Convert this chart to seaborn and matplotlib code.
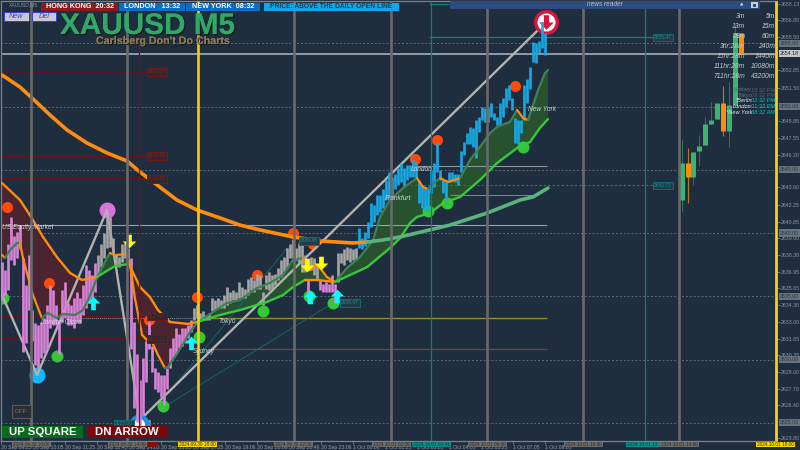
import numpy as np
import matplotlib
matplotlib.use("Agg")
import matplotlib.pyplot as plt
import matplotlib.patheffects as pe
from matplotlib.patches import Rectangle
from matplotlib.path import Path
from matplotlib.transforms import Affine2D
import seaborn as sns

# ---------- data (x = bar number, y = price) ----------
bar_high = [2637.7,2637.1,2639.1,2641.3,2639.8,2640.1,2640.6,2638.0,2635.9,2638.3,2633.9,2632.9,2632.7,2633.0,2633.3,2634.3,
 2635.9,2635.5,2634.3,2633.0,2635.5,2636.1,2634.5,2634.3,2634.9,2635.3,2634.9,2635.9,2637.5,2637.1,2636.7,2637.6,
 2638.3,2639.1,2640.0,2641.2,2641.3,2639.6,2638.3,2638.1,2639.1,2639.2,2638.8,
 2638.0,2633.0,2630.4,2628.4,2630.1,2631.5,2633.0,2631.1,2629.3,2629.0,2628.8,2628.8,2629.3,2630.9,2631.7,2632.5,2632.0,2632.5,2632.5,2632.7,2633.1,
 2634.1,2634.3,2633.7,2633.8,2633.5,2633.7,2634.9,2634.7,2634.9,2634.7,2635.1,2635.7,2635.3,2635.5,2635.3,2636.1,2635.7,2635.6,2636.4,2636.5,2636.3,2636.8,2636.7,2635.3,2636.7,2636.9,2636.7,2636.8,2637.2,2637.9,2638.1,2638.8,2639.1,2639.5,2638.8,2639.2,2639.2,2638.3,
 2636.3,2638.1,2638.0,2637.5,2636.3,2636.0,2636.1,2636.0,2636.7,2636.0,
 2638.4,2638.4,2638.7,2638.9,2638.8,2638.7,2638.8,
 2640.4,2639.6,2640.1,2640.9,2642.4,2642.2,2643.0,2643.0,2643.5,2644.2,2644.8,2644.4,2644.7,2645.1,2645.5,2645.1,2645.4,2645.4,2645.8,2645.5,2644.2,2643.8,2643.6,2643.5,2645.0,2645.5,2647.1,2645.0,2644.2,2644.0,2644.8,2644.8,2644.7,2644.7,2646.5,2647.2,2647.9,2648.4,2648.3,2648.9,2649.2,2650.0,2649.9,2650.0,2650.3,2649.5,2649.2,2650.3,2650.7,2651.5,2651.7,2650.7,2649.1,2648.9,2648.9,2651.7,2652.2,2653.1,2655.1,2655.0,2655.2,2656.7,2655.8]
bar_low = [2634.7,2635.1,2635.5,2637.9,2637.5,2638.0,2638.7,2630.6,2631.3,2633.9,2631.5,2629.6,2629.3,2630.1,2630.5,2630.8,
 2632.5,2632.7,2632.7,2630.4,2633.0,2633.3,2632.7,2632.7,2632.5,2633.0,2632.9,2633.5,2634.1,2634.5,2634.9,2635.3,
 2636.8,2637.3,2638.0,2638.8,2638.9,2638.4,2637.3,2637.3,2637.7,2638.0,2638.0,
 2630.8,2626.2,2625.1,2624.6,2625.6,2628.2,2630.8,2629.0,2627.7,2627.4,2627.0,2626.4,2627.7,2629.3,2630.1,2630.4,2630.9,2631.1,2631.4,2631.7,2632.2,
 2633.1,2633.3,2633.1,2633.1,2633.1,2633.1,2633.8,2633.9,2634.1,2634.1,2634.1,2634.3,2634.5,2634.7,2634.7,2634.9,2634.9,2634.9,2635.1,2635.5,2635.3,2635.6,2635.6,2634.3,2635.6,2635.5,2635.6,2635.9,2636.3,2636.5,2636.9,2637.2,2638.0,2638.0,2637.9,2637.6,2636.9,2636.9,
 2634.5,2637.1,2636.7,2636.3,2635.5,2635.3,2635.3,2635.3,2635.3,2634.5,
 2636.1,2637.6,2637.5,2637.9,2637.7,2637.9,2637.9,
 2638.8,2638.7,2639.0,2639.6,2640.5,2640.9,2641.4,2641.7,2642.0,2642.6,2642.8,2642.8,2643.5,2643.8,2644.0,2643.6,2644.2,2644.4,2644.4,2644.3,2642.4,2642.0,2641.8,2641.7,2643.2,2643.6,2644.8,2644.2,2643.2,2642.4,2644.0,2644.1,2644.0,2643.8,2644.8,2646.2,2647.0,2647.0,2646.8,2645.9,2648.0,2648.9,2648.8,2648.8,2649.2,2648.9,2648.5,2648.5,2649.2,2650.0,2650.5,2649.7,2647.1,2647.0,2647.9,2648.9,2650.3,2651.4,2653.5,2653.4,2654.2,2654.6,2654.1]
bar_run_colors = ["#d884d8","#a6a6a6","#d884d8","#a6a6a6","#d884d8","#a6a6a6","#d884d8","#a6a6a6","#17a9e6"]
bar_run_lengths = [32,11,21,38,1,3,6,7,63]

fast_x = [0,1,2.7,5,6,7,8.3,10.3,13.3,15.3,18.3,20.3,24.3,27,28.7,31.7,34.3,36,37.7,41.7,42.7,44.3,46.7,48.3,50,52,54.3,55.3,58.7,62.7,65,70.3,75,79.3,85,89.3,93.7,97,100.3,102.7,104.3,106,108.3,111,115,119.3,123.7,126,129.3,133.7,138.3,140.3,142,143.3,146,148.7,152.7,156,159.3,162.7,165,169.3,171.7,173.7,175.3,178.7,181,182]
fast_p = [2638.26,2638.03,2638.66,2639.21,2639.21,2638.03,2636.84,2635.1,2633.28,2633.68,2633.28,2633.6,2633.52,2633.91,2634.7,2636.44,2637.71,2638.42,2638.26,2638.34,2637.47,2634.86,2631.94,2631.54,2631.39,2630.36,2629.33,2629.41,2630.59,2632.18,2632.89,2633.76,2634.47,2634.7,2635.65,2636.05,2636.68,2637.87,2638.03,2637.08,2637.47,2637.24,2636.52,2636.13,2637.24,2638.1,2639.45,2641.27,2642.61,2643.56,2644.35,2643.64,2643.48,2643.8,2644.35,2644.03,2644.35,2645.77,2646.8,2647.9,2648.38,2648.78,2649.72,2649.09,2648.93,2651.3,2652.65,2652.89]
fast_orange = [(0,1),(6,13.3),(36,54.3),(100.3,111),(138.3,142),(146,152.7),(171.7,175.3)]
slow_x = [0,6,9.3,13.7,18.3,22.7,26.7,31.7,34.3,37.7,42.3,46,49.3,52,56,62,65,72.7,79.3,88.3,93.7,97,101,105,111,121.7,129.3,132.7,136,138.3,142.7,147,152.7,159.3,165,171.7,176,179.3,182]
slow_p = [2643.95,2642.61,2641.42,2639.68,2638.1,2636.84,2636.29,2636.52,2636.92,2637.39,2637.55,2635.73,2634.94,2633.91,2632.97,2632.81,2632.97,2633.52,2633.91,2634.55,2635.1,2635.73,2636.29,2636.29,2636.13,2637.31,2638.81,2639.6,2640.79,2641.27,2641.58,2642.37,2642.85,2644.19,2645.53,2646.72,2647.19,2648.3,2649.01]
slow_orange = [(0,31.7),(42.3,65),(101,111)]
cloud_edges = [0,31.7,42.4,65,111,182]
cloud_colors = ["#4a2430","#27512f","#4a2430","#27512f","#27512f"]

long_x = [0,6,10,16,21.7,28.3,35,41.7,46,51.7,58.3,65,72.7,79.3,86,97,106,117,121.7]
long_p = [2652.49,2651.54,2650.67,2649.33,2648.14,2647.12,2646.33,2645.69,2644.82,2643.8,2642.61,2641.82,2641.19,2640.63,2640.24,2639.69,2639.37,2639.21,2639.29]
long2_x = [121.7,127,132.7,149.3,161.7,172.7,177,182]
long2_p = [2639.29,2639.45,2639.69,2640.63,2641.58,2642.61,2642.85,2643.56]
zig_x = [0,11.7,35,46,178.7]
zig_p = [2635.1,2628.78,2641.82,2625.22,2656.05]

red_x = [1.67,15.67,49,65,85,97,103.67,137.67,145,171]
red_p = [2642.06,2636.05,2633.12,2634.94,2636.68,2640.0,2639.13,2645.85,2647.39,2651.66]
green_x = [0.33,18.33,53.67,65.67,87,102.33,110.33,142,148.33,173.67]
green_p = [2634.86,2630.28,2626.33,2631.78,2633.84,2635.02,2634.47,2641.74,2642.37,2646.8]
up_x = [30.33,63,102.67,111.67]
up_p = [2634.47,2631.31,2634.94,2635.02]
down_x = [42.33,101.67,106.33]
down_p = [2639.37,2637.47,2637.63]

cand_x = [226.7,228.5,230.3,232.3,234.3,236.3,238.3,240.3,242.3,244.3,246.3]
cand_top = [2645.53,2645.53,2646.4,2646.88,2648.62,2648.93,2650.28,2650.28,2650.12,2655.81,2655.81]
cand_bot = [2642.61,2644.43,2644.43,2646.48,2646.96,2648.62,2649.01,2648.06,2648.06,2650.12,2654.15]
cand_high = [2647.35,2646.72,2646.4,2647.75,2649.17,2650.36,2650.28,2651.62,2651.94,2656.44,2655.81]
cand_low = [2641.66,2642.37,2643.8,2645.3,2646.96,2648.62,2649.01,2647.67,2646.8,2650.12,2654.15]
cand_up = [1,0,1,1,1,1,1,0,1,1,0]

price_ticks = [2658.13,2656.80,2655.50,2652.85,2651.50,2648.85,2647.55,2646.20,2643.60,2642.25,2640.85,2639.60,2638.30,2636.95,2635.65,2634.30,2633.00,2631.65,2630.35,2629.00,2627.70,2626.40,2623.80]
round_levels = [2655,2650,2645,2640,2635,2630,2625]
time_tick_x = [-0.33,10.33,21,31.67,42.33,53,63.67,74.33,85,95.67,106.33,117,127.67,138.33,149,159.67,170.33,181]
time_tick_labels = ["30 Sep 09:25","30 Sep 10:05","30 Sep 11:25","30 Sep 12:45","30 Sep 14:05","30 Sep 15:25","30 Sep 17:25","30 Sep 19:06","30 Sep 20:06","30 Sep 20:46","30 Sep 23:06","1 Oct 00:06","1 Oct 01:25","1 Oct 03:05","1 Oct 04:05","1 Oct 05:25","1 Oct 07:05","1 Oct 08:05"]

session_gray = [9.83,41.83,97.17,129.67,161.83,193.83,225.83]
session_yellow = [65.17,258]
session_teal = [143,214.3]
session_red = [45.8]

red_levels = [2646.09,2644.27,2633.4,2631.62]
red_dotted = 2652.73
red_labels = ["2652.89","2646.09","2644.20","2633.41","2631.62"]
names = ["US Equity Market","London Close","Sydney","Tokyo","Frankfurt","London","New York"]
name_x = [0,13,63.7,72.3,127.7,136.3,175.3]
name_p = [2640.4,2632.9,2630.6,2633.0,2642.7,2645.0,2649.8]
tf_col1 = ["3m","13m","28m","3hr:28m","15hr:28m","111hr:28m","711hr:28m"]
tf_col2 = ["5m","15m","60m","240m","1440m","10080m","43200m"]
city = ["Sydney","Tokyo","*Berlin","London","*New York"]
city_t = ["10:32 PM","09:32 PM","02:32 PM","01:32 PM","08:32 AM"]

# ---------- set-up ----------
sns.set_theme(style="dark")
BG = "#1f2e3e"
plt.rcParams["font.family"] = ["Liberation Sans", "DejaVu Sans"]
fig = plt.figure(figsize=(8, 4.5), dpi=100, facecolor=BG)
ax = fig.add_axes([1/800, 9/450, 776/800, 440/450], facecolor=BG)
PX = Affine2D().scale(1, -1).translate(0, 450)

def rect(x0, y0, x1, y1, fc, ec="none", lw=0, z=6):
    fig.add_artist(Rectangle((x0, y0), x1-x0, y1-y0, transform=PX, fc=fc, ec=ec, lw=lw, zorder=z))

def ftext(x, y, s, color="white", size=6, ha="left", weight="normal", style="normal", z=7, **kw):
    return fig.text(x, y, s, transform=PX, color=color, fontsize=size, ha=ha, va="center",
                    fontweight=weight, fontstyle=style, zorder=z, **kw)

ax.hlines(round_levels, -0.33, 258, colors="#5d6b78", lw=0.7, linestyles=(0, (2, 2)), zorder=1)

# cloud
fx, fp, sx, sp = map(np.array, (fast_x, fast_p, slow_x, slow_p))
for a, b, c in zip(cloud_edges[:-1], cloud_edges[1:], cloud_colors):
    m1 = (fx >= a) & (fx <= b)
    m2 = (sx >= a) & (sx <= b)
    ax.fill(np.r_[fx[m1], sx[m2][::-1]], np.r_[fp[m1], sp[m2][::-1]], color=c, lw=0, zorder=2)

# horizontal objects
ax.hlines(2654.18, -0.33, 258, colors="#b4b8bc", lw=1.1, zorder=2.5)
ax.hlines(2645.3, 136.7, 181.7, colors="#8a949c", lw=0.8, zorder=2.5)
ax.hlines(2642.97, 149.3, 178.7, colors="#78848c", lw=0.8, zorder=2.5)
ax.hlines(2640.67, 0, 181.7, colors="#9aa0a6", lw=0.8, zorder=2.5)
ax.hlines(2655.47, 142.3, 217, colors="#167f80", lw=0.9, zorder=2.5)
ax.hlines(2658.1, 142.3, 149, colors="#167f80", lw=0.9, zorder=2.5)
ax.hlines(2643.76, 136, 217, colors="#167f80", lw=0.8, linestyles=(0, (2, 2)), zorder=2.5)
ax.hlines(2633.28, 65, 181.7, colors="#8f8f20", lw=1.0, zorder=2.5)
ax.hlines(2633.28, 26.7, 65, colors="#8a949c", lw=0.7, linestyles=(0, (1, 1)), zorder=2.5)
ax.hlines(2630.87, 69.3, 181.7, colors="#6a4a42", lw=1.0, zorder=2.5)
ax.hlines(red_levels, 0, 48.3, colors="#7d0d0d", lw=1.1, zorder=2.5)
ax.hlines(red_dotted, 0, 48.3, colors="#6a1515", lw=0.8, linestyles=(0, (2, 1)), zorder=2.5)

# thin diagonals
sns.lineplot(x=[53.67, 110.33], y=[2626.2, 2634.47], color="#176a70", lw=0.6, ax=ax, legend=False, zorder=3)
sns.lineplot(x=[55, 95], y=[2627.2, 2638.8], color="#176a70", lw=0.6, ax=ax, legend=False, zorder=3)

# dots (under the price bars)
def dots(x, p, color, d, z=4):
    sns.scatterplot(x=x, y=p, color=color, s=(d*0.72)**2, linewidth=0, ax=ax, legend=False, zorder=z)

dots(red_x, red_p, "#ff4a0a", 11)
dots(green_x, green_p, "#35c73a", 12)
dots([11.67], [2628.78], "#10b8ff", 16)
dots([35], [2641.82], "#d873d8", 16)

# zigzag
sns.lineplot(x=zig_x, y=zig_p, sort=False, estimator=None, color="#b2b2b2", lw=1.7, ax=ax, legend=False, zorder=4.2)

# bottom ring & top exit circle
ax.add_patch(Rectangle((41, 2624.0), 8.7, 1.25, fc="#7d8084", ec="none", zorder=3.5))
dots([45.7], [2624.9], "#1c8fe8", 20, z=4.3)
dots([45.7], [2624.9], "#ffffff", 11, z=4.4)
dots([181.3], [2656.68], "#dc143c", 25, z=4.3)
dots([181.3], [2656.68], "#ffffff", 18, z=4.4)

# price bars
colors = np.repeat(bar_run_colors, bar_run_lengths)
ax.vlines(np.arange(len(bar_high)), bar_low, bar_high, colors=colors, lw=1.9, zorder=5)

# indicator lines
def segs(x, p, orange, up_color, down_color, lw, z):
    for i in range(len(x)-1):
        c = down_color if any(a <= x[i] < b for a, b in orange) else up_color
        sns.lineplot(x=x[i:i+2], y=p[i:i+2], color=c, lw=lw, estimator=None, ax=ax, legend=False, zorder=z,
                     solid_capstyle="round")

segs(fast_x, fast_p, fast_orange, "#3f8058", "#ff8c10", 1.6, 6)
segs(slow_x, slow_p, slow_orange, "#36c93c", "#ff8c10", 1.7, 6.1)
sns.lineplot(x=long_x, y=long_p, color="#ff8c10", lw=2.6, ax=ax, legend=False, zorder=6.2)
sns.lineplot(x=long2_x, y=long2_p, color="#5cb27c", lw=2.6, ax=ax, legend=False, zorder=6.2)

# arrows
ARROW = Path([(-0.35,-1),(0.35,-1),(0.35,0),(1,0),(0,1),(-1,0),(-0.35,0),(-0.35,-1)], closed=True)
ARROW_D = Path(ARROW.vertices*np.array([1,-1]), ARROW.codes)
sns.scatterplot(x=up_x, y=up_p, marker=ARROW, s=95, color="#00ffff", linewidth=0, ax=ax, legend=False, zorder=7)
sns.scatterplot(x=down_x, y=down_p, marker=ARROW_D, s=95, color="#ffff00", linewidth=0, ax=ax, legend=False, zorder=7)
sns.scatterplot(x=[181.3], y=[2656.68], marker=ARROW_D, s=110, color="#dc143c", linewidth=0, ax=ax, legend=False, zorder=4.5)

# candles of the higher time frame
for x, t, b, h, l, u in zip(cand_x, cand_top, cand_bot, cand_high, cand_low, cand_up):
    c = "#3cb371" if u else "#ff8c0a"
    w = "#2f6f55" if u else "#b87a20"
    ax.vlines(x, l, h, colors=w, lw=0.8, zorder=5)
    ax.vlines(x, b, t, colors=c, lw=3.6, zorder=5.1)

# session verticals
ax.vlines(session_gray, 2623.56, 2658.34, colors="#666a6e", lw=1.9, zorder=8)
ax.vlines(session_teal, 2623.56, 2658.34, colors="#157a80", lw=0.9, zorder=8)
ax.vlines(session_red, 2623.56, 2658.34, colors="#7d0d0d", lw=0.9, zorder=8)
ax.vlines(session_yellow[0], 2623.56, 2658.34, colors="#ffcc00", lw=1.9, zorder=8.1)
ax.vlines(session_yellow[1], 2623.56, 2658.34, colors="#ffd000", lw=2.0, zorder=8.1, clip_on=False)

# session names
for s, x, p in zip(names, name_x, name_p):
    ax.text(x, p, s, color="#dfe3e6", fontsize=4.8, fontstyle="italic", va="center", zorder=9, alpha=0.9)

# price-level labels
for p, s in zip([2652.73]+red_levels, red_labels):
    ax.text(48.7, p, s, color="#7a2020", fontsize=3.5, va="center", zorder=9,
            bbox=dict(fc="#34262f", ec="#701a1a", lw=0.7, pad=0.9))
for x, p, s in [(217.3, 2655.47, "2655.47"), (217.3, 2643.76, "2643.72"), (99.3, 2639.38, "2639.38"), (113, 2634.47, "2634.47"), (37.7, 2624.96, "2625.00")]:
    ax.text(x, p, s, color="#1f8f90", fontsize=3.5, va="center", zorder=9,
            bbox=dict(fc="#1f3c48", ec="#156a70", lw=0.7, pad=0.9))

# axes
ax.set_xlim(-0.33, 258.33)
ax.set_ylim(2623.56, 2658.34)
ax.yaxis.tick_right()
ax.set_yticks(price_ticks, [f"{v:.2f}" for v in price_ticks])
ax.set_xticks(time_tick_x, time_tick_labels)
ax.tick_params(axis="y", length=2, width=0.5, color="#8a9098", labelsize=3.8, labelcolor="#8f969e", pad=1, right=True)
ax.tick_params(axis="x", length=2, width=0.5, color="#8a9098", labelsize=3.7, labelcolor="#9aa0a6", pad=0.8, bottom=True)
for lab in ax.get_xticklabels():
    lab.set_ha("left")
for s in ("left", "bottom", "top"):
    ax.spines[s].set_color("#7c8288")
    ax.spines[s].set_linewidth(0.9)
ax.spines["right"].set_visible(False)
ax.grid(False)
ax.set_xlabel("")
ax.set_ylabel("")

for p in round_levels:
    ax.annotate(f"{p:.2f}", xy=(1, p), xycoords=ax.get_yaxis_transform(), xytext=(2, 0), textcoords="offset points",
                color="#2d3742", fontsize=3.8, va="center", annotation_clip=False, zorder=10,
                bbox=dict(fc="#66727e", ec="none", pad=0.8))
ax.annotate("2654.18", xy=(1, 2654.18), xycoords=ax.get_yaxis_transform(), xytext=(2, 0), textcoords="offset points",
            color="#222a33", fontsize=3.8, va="center", annotation_clip=False, zorder=10,
            bbox=dict(fc="#c4c6c8", ec="none", pad=0.8))

# date boxes on the time axis
for x0, x1, s, fc, tc in [(12,51,"2024.09.30 10:00","#6c6c6c","#2a2a2a"),(108,147,"2024.09.30 14:00","#6c6c6c","#2a2a2a"),
                          (147,158,"2:37","#8a0f0f","#5a1010"),(178,217,"2024.09.30 18:00","#ffd400","#2a2a00"),
                          (274,313,"2024.09.30 22:00","#6c6c6c","#2a2a2a"),(372,411,"2024.10.01 02:00","#6c6c6c","#2a2a2a"),
                          (412,451,"2024.10.01 02:41","#0d8a8a","#0b3b3b"),(468,507,"2024.10.01 06:00","#6c6c6c","#2a2a2a"),
                          (564,603,"2024.10.01 10:00","#6c6c6c","#2a2a2a"),(626,660,"2024.10.01 12:","#0d8a8a","#0b3b3b"),
                          (660,699,"2024.10.01 14:00","#6c6c6c","#2a2a2a"),(756,795,"2024.10.01 18:00","#ffd400","#2a2a00")]:
    rect(x0, 441.5, x1, 447, fc)
    ftext((x0+x1)/2, 444.2, s, color=tc, size=3.4, ha="center")

# ---------- screen furniture ----------
ftext(9, 5, "XAUUSD,M5", color="#8a9098", size=3.6)
rect(41, 3, 118, 10.5, "#8c1c1c")
ftext(79.5, 6.8, "HONG KONG  20:32", color="white", size=5.2, ha="center", weight="bold")
rect(119, 3, 185, 10.5, "#0a6fc4")
ftext(152, 6.8, "LONDON   13:32", color="white", size=5.2, ha="center", weight="bold")
rect(186, 3, 260, 10.5, "#0a6fc4")
ftext(223, 6.8, "NEW YORK  08:32", color="white", size=5.2, ha="center", weight="bold")
rect(264, 3, 399, 10.5, "#0fa8ea")
ftext(331.5, 6.8, "PRICE: ABOVE THE DAILY OPEN LINE", color="#17384f", size=4.8, ha="center", weight="bold")
for x0, x1, s in [(4, 29, "New"), (32, 56, "Del")]:
    rect(x0, 12, x1, 21, "#c9c9d6", ec="#3a3ad8", lw=0.7)
    ftext((x0+x1)/2, 16.7, s, color="#3a3ad8", size=5.2, ha="center", style="italic")

ftext(60, 26, "XAUUSD M5", color="#2fa868", size=21.4, weight="bold", z=9,
      path_effects=[pe.withSimplePatchShadow(offset=(1, -1), shadow_rgbFace="#0c1a14", alpha=0.9), pe.Normal()])
ftext(96, 41, "Carlsberg Don't Do Charts", color="#8d7a55", size=7.7, weight="bold", z=9,
      path_effects=[pe.withSimplePatchShadow(offset=(0.7, -0.7), shadow_rgbFace="#111111", alpha=0.8), pe.Normal()])

rect(450, 1, 760, 9, "#2d4d80")
ftext(605, 4.6, "news reader", color="#b9c2cc", size=4.7, ha="center", style="italic")
ftext(742, 4.8, "▲", color="#d8dde2", size=3.2, ha="center", family="DejaVu Sans")
rect(751, 2, 758, 8, "#c8d0d8")
rect(753, 3.5, 756, 6.5, "#2d4d80")

for i, (a, b) in enumerate(zip(tf_col1, tf_col2)):
    y = 16 + 10*i
    ftext(745, y, a, color="#c6cacd", size=4.9, ha="right", style="italic", z=9)
    ftext(775, y, b, color="#c6cacd", size=4.9, ha="right", style="italic", z=9)
for y, n, t, dim in zip([90, 95.3, 101, 106.7, 112], city, city_t, [1, 1, 0, 0, 0]):
    ftext(752, y, n, color="#66707a" if dim else "#e8ecef", size=4.1, ha="right", style="italic", z=9)
    ftext(775, y, t, color="#56626e" if dim else "#00c4c4", size=4.1, ha="right", style="italic", z=9)

rect(12, 405, 31, 418, "#2a2e33", ec="#565a5e", lw=0.8)
ftext(21.5, 411.7, "OFF", color="#70767c", size=4.6, ha="center")
rect(2, 426, 83, 437.5, "#0a6b1c")
ftext(42.5, 432, "UP SQUARE", color="white", size=8.2, ha="center", weight="bold")
rect(87, 426, 167, 437.5, "#7a0a0a")
ftext(127, 432, "DN ARROW", color="white", size=8.2, ha="center", weight="bold")

fig.savefig("out.png", dpi=100, facecolor=BG)
